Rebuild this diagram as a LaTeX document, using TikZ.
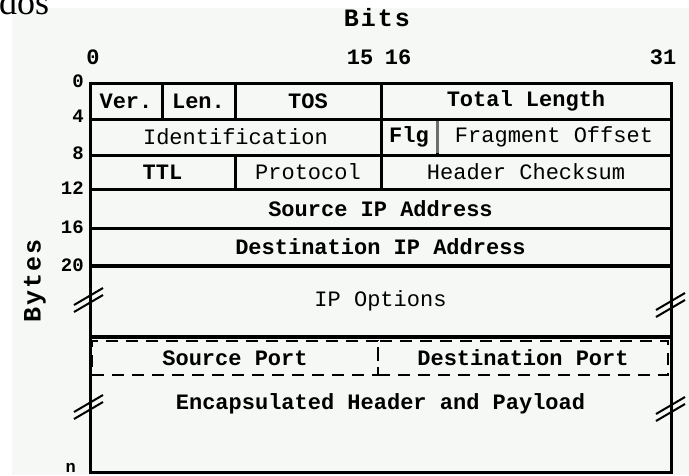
\documentclass[tikz,border=0pt]{standalone}
\usepackage{fontspec}
\setmainfont{Liberation Serif}
\setmonofont{Liberation Mono}
\newfontfamily\axisfont{Liberation Mono}[LetterSpace=8]
\definecolor{canvas}{RGB}{246,248,245}
\definecolor{divgray}{RGB}{110,110,110}
\begin{document}
\begin{tikzpicture}[x=1pt,y=-1pt,
  cell/.style={draw=black,line width=3pt,inner sep=0pt,outer sep=0pt,
    font=\ttfamily\fontsize{22}{22}\selectfont},
  cellb/.style={cell,font=\ttfamily\bfseries\fontsize{22}{22}\selectfont},
  tcpcell/.style={draw=black,line width=2.5pt,dash pattern=on 12pt off 8pt,
    inner sep=0pt,outer sep=0pt,font=\ttfamily\bfseries\fontsize{22}{22}\selectfont},
  bitnum/.style={inner sep=0pt,font=\ttfamily\bfseries\fontsize{22}{22}\selectfont},
  bytenum/.style={inner sep=0pt,anchor=east,font=\ttfamily\bfseries\fontsize{19}{19}\selectfont},
  axis/.style={inner sep=0pt,font=\axisfont\bfseries\fontsize{25}{25}\selectfont},
  brk/.style={line width=2pt,black},
]
% canvas
\fill[white] (0,0) rectangle (689,475);
\fill[canvas] (12,8) rectangle (689,475);
\useasboundingbox (0,0) rectangle (689,475);

\node[anchor=base west,inner sep=0pt,font=\rmfamily\fontsize{36}{36}\selectfont] (dos) at (-1,14) {dos};

% axis titles
\node[axis] (bits) at (377,18) {Bits};
\node[axis,rotate=90] (bytes) at (35,281) {Bytes};

% bit positions
\node[bitnum] (b0) at (93,57) {0};
\node[bitnum] (b15) at (360,57) {15};
\node[bitnum] (b16) at (398,57) {16};
\node[bitnum] (b31) at (663,57) {31};

% byte offsets
\node[bytenum] (y0) at (84,81) {0};
\node[bytenum] (y4) at (84,116) {4};
\node[bytenum] (y8) at (84,153) {8};
\node[bytenum] (y12) at (84,188) {12};
\node[bytenum] (y16) at (84,227) {16};
\node[bytenum] (y20) at (84,265) {20};
\node[bytenum,font=\ttfamily\bfseries\fontsize{17}{17}\selectfont] (yn) at (76,468) {n};

% payload area and options
\node[cell,minimum width=581pt,minimum height=135pt] (payload) at (380.5,404.5) {};
\node[anchor=center,inner sep=0pt,font=\ttfamily\bfseries\fontsize{22}{22}\selectfont] (payloadtxt) at (380.5,404) {Encapsulated Header and Payload};
\node[cell,minimum width=581pt,minimum height=71pt] (ipopt) at (380.5,300.5) {IP Options};

% IP header rows
\node[cellb,minimum width=72pt,minimum height=36pt] (ver) at (126,101) {Ver.};
\node[cellb,minimum width=73pt,minimum height=36pt] (len) at (198.5,101) {Len.};
\node[cellb,minimum width=146pt,minimum height=36pt] (tos) at (308,101) {TOS};
\node[cellb,minimum width=290pt,minimum height=36pt] (tlen) at (526,101) {Total Length};

\node[cell,minimum width=291pt,minimum height=36pt] (ident) at (235.5,137) {Identification};
\node[cellb,minimum width=56pt,minimum height=36pt] (flg) at (409,137) {Flg};
\node[cell,minimum width=234pt,minimum height=36pt] (frag) at (554,137) {Fragment Offset};

\node[cellb,minimum width=145pt,minimum height=34pt] (ttl) at (162.5,172) {TTL};
\node[cell,minimum width=146pt,minimum height=34pt] (proto) at (308,172) {Protocol};
\node[cell,minimum width=290pt,minimum height=34pt] (cksum) at (526,172) {Header Checksum};

\node[cellb,minimum width=581pt,minimum height=39pt] (srcip) at (380.5,208.5) {Source IP Address};
\node[cellb,minimum width=581pt,minimum height=38pt] (dstip) at (380.5,247) {Destination IP Address};

% the lighter divider after the flags
\draw[line width=3pt,divgray,shorten >=2pt,shorten <=2pt]
  (flg.north east) -- (flg.south east);

% encapsulated transport header (dashed)
\node[tcpcell,minimum width=286pt,minimum height=34pt] (srcport) at (235,358) {Source Port};
\node[tcpcell,minimum width=290pt,minimum height=34pt] (dstport) at (523,358) {Destination Port};

% break marks on the side borders
\coordinate (brkL1) at (89,300);
\coordinate (brkL2) at (89,407);
\coordinate (brkR1) at (671,305);
\coordinate (brkR2) at (671,409);
\foreach \c in {brkL1,brkL2,brkR1,brkR2}{
  \draw[brk] ([shift={(-15,5)}]\c) -- ++(29,-17);
  \draw[brk] ([shift={(-15,12)}]\c) -- ++(29,-17);
}
\end{tikzpicture}
\end{document}
